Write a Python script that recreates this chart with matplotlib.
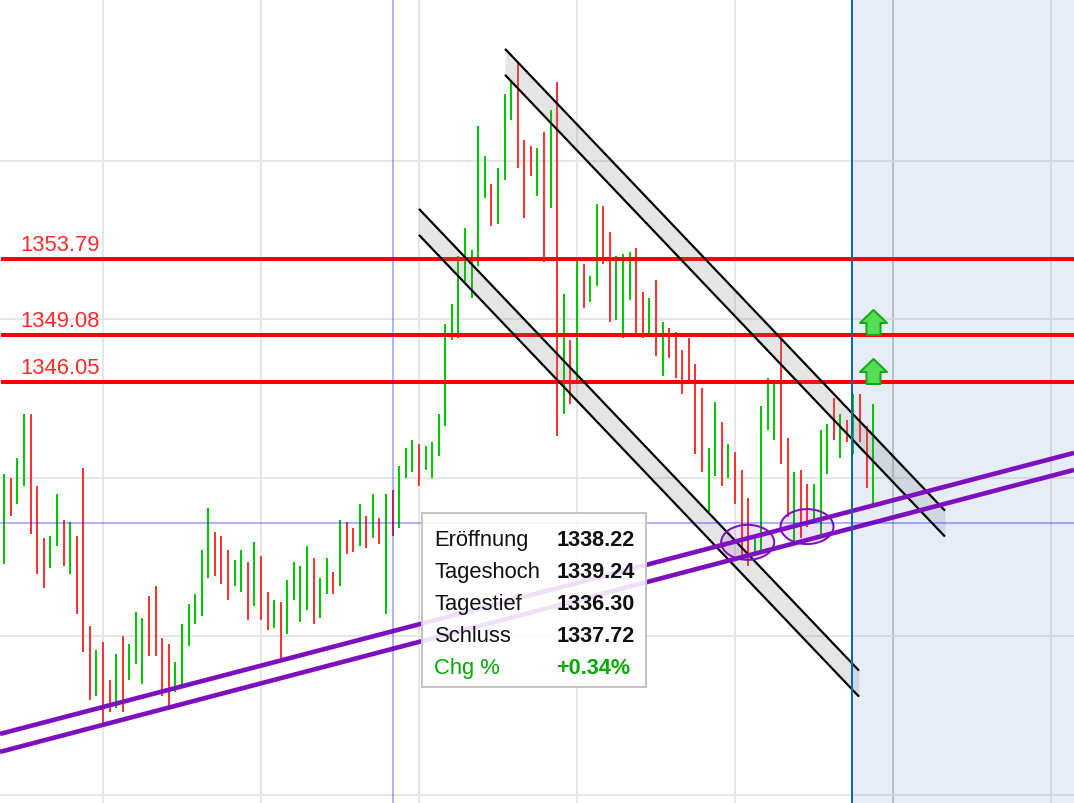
import matplotlib
matplotlib.use("Agg")
import matplotlib.pyplot as plt
from matplotlib.patches import Ellipse, Rectangle
from matplotlib.path import Path

plt.rcParams['font.family'] = ['Liberation Sans', 'DejaVu Sans']

W, H = 1074, 804

# ---------- data ----------
highs = [1340.24,1339.98,1341.24,1344.02,1344.02,1339.48,1336.21,1336.33,1338.98,1337.34,
         1337.21,1336.33,1340.61,1330.66,1329.15,1329.65,1327.26,1328.90,1330.03,1329.53,
         1331.54,1331.17,1332.55,1333.18,1329.91,1329.53,1328.39,1330.79,1332.05,1332.68,
         1335.45,1338.09,1336.58,1336.33,1335.45,1334.82,1335.45,1334.69,1335.95,1335.07,
         1332.80,1332.30,1332.17,1333.56,1334.69,1334.44,1335.70,1334.95,1333.69,1334.95,
         1334.06,1337.34,1337.21,1336.84,1338.35,1337.59,1338.98,1337.46,1338.98,1339.24,
         1340.74,1341.87,1342.38,1342.13,1342.00,1342.25,1344.02,1349.69,1350.94,1353.97,
         1355.73,1354.35,1362.16,1360.27,1358.50,1359.51,1364.17,1364.93,1366.19,1361.28,
         1360.90,1360.77,1361.78,1363.16,1364.93,1351.57,1348.68,1353.72,1353.46,1352.71,
         1357.24,1357.12,1355.48,1353.97,1354.09,1354.22,1354.47,1351.70,1351.32,1352.46,
         1349.81,1349.43,1349.18,1348.05,1348.80,1347.17,1345.65,1341.87,1344.77,1343.51,
         1342.13,1341.62,1340.49,1338.72,1336.14,1344.52,1346.28,1346.16,1348.80,1342.50,
         1340.36,1340.49,1339.61,1339.61,1343.01,1343.39,1345.02,1344.02,1343.64,1345.28,
         1345.28,1343.26,1344.65]
lows = [1334.57,1337.59,1338.35,1339.48,1336.46,1333.94,1333.06,1334.32,1335.70,1334.44,
        1333.94,1331.42,1329.02,1326.00,1326.25,1324.49,1325.24,1325.50,1325.24,1327.26,
        1328.27,1327.01,1328.77,1328.77,1326.25,1325.62,1326.50,1326.88,1329.40,1330.79,
        1331.29,1333.69,1333.81,1333.31,1332.30,1333.18,1332.80,1331.04,1331.92,1331.04,
        1330.41,1330.54,1328.52,1330.16,1332.30,1330.91,1331.67,1330.79,1331.17,1332.68,
        1332.68,1333.18,1335.20,1335.32,1335.70,1335.58,1336.21,1335.83,1331.42,1336.30,
        1336.84,1339.98,1340.36,1339.48,1340.49,1339.98,1341.37,1343.26,1348.68,1348.80,
        1352.27,1351.32,1353.34,1357.62,1355.86,1355.98,1358.76,1362.54,1359.51,1356.36,
        1359.01,1357.75,1353.59,1356.99,1342.63,1344.02,1344.65,1345.91,1350.69,1351.07,
        1352.08,1353.46,1349.81,1349.94,1348.80,1351.20,1349.06,1348.80,1349.06,1347.67,
        1346.41,1347.54,1346.28,1345.28,1346.03,1341.50,1340.36,1337.84,1340.11,1339.48,
        1339.98,1338.35,1335.07,1334.44,1335.26,1335.45,1343.01,1342.38,1340.87,1337.53,
        1336.02,1336.21,1336.90,1337.34,1336.46,1340.24,1342.38,1341.24,1342.25,1341.50,
        1342.25,1339.35,1338.35]
red_bars = [1,4,5,6,9,11,12,13,15,16,18,22,23,24,25,32,33,34,37,39,40,42,47,50,52,53,55,57,59,
            63,74,78,79,80,82,84,86,88,91,92,96,97,99,101,102,103,104,105,106,109,111,112,113,
            118,119,121,122,126,128,130,131]
bar_index = list(range(len(highs)))

level_labels = ["1353.79", "1349.08", "1346.05"]
level_prices = [1353.79, 1348.99, 1346.03]

channel_left_x = [63.0, 129.84]
channel_left_upper = [1356.93, 1327.85]
channel_left_lower = [1355.29, 1326.21]
channel_right_x = [76.07, 142.9]
channel_right_upper = [1367.01, 1337.92]
channel_right_lower = [1365.37, 1336.29]

trend_x = [-0.646, 162.5]
trend_upper = [1323.86, 1341.56]
trend_lower = [1322.73, 1340.49]

ellipse_x = [112.93, 121.94]
ellipse_p = [1335.93, 1336.92]

arrow_x = [132, 132]
arrow_p = [1349.78, 1346.72]

tooltip_labels = ["Eröffnung", "Tageshoch", "Tagestief", "Schluss", "Chg %"]
tooltip_values = ["1338.22", "1339.24", "1336.30", "1337.72", "+0.34%"]

grid_x = [15, 39, 63, 87, 111, 135, 159]
grid_y = [1320, 1330, 1340, 1350, 1359.95]
cross_x, cross_y = 59, 1337.15
now_x = 128.78

# ---------- figure ----------
px = 0.72  # points per pixel at dpi 100
xlim = (-0.646, 162.5)
fig = plt.figure(figsize=(W / 100, H / 100), dpi=100)
ax = fig.add_axes([0, 0, 1, 1])
ax.set_xlim(*xlim)
ax.set_ylim(1319.51, 1370.15)
for s in ax.spines.values():
    s.set_visible(False)
ax.set_xticks(grid_x)
ax.set_yticks(grid_y)
ax.tick_params(length=0, labelbottom=False, labelleft=False)
ax.grid(True, color="#e6e6e6", lw=2 * px, zorder=1)
ax.set_axisbelow(True)
ax.get_xgridlines()[5].set_color("#c8c8c8")

# future shading
ax.axvspan(now_x, xlim[1], facecolor=(108/255, 149/255, 202/255), alpha=0.17, lw=0, zorder=2)

# bars: exactly two pixels wide
bar_width = 2 * (xlim[1] - xlim[0]) / W
colors = ["#ff3333" if i in red_bars else "#00c800" for i in bar_index]
heights = [h - l for h, l in zip(highs, lows)]
ax.bar(bar_index, heights, bottom=lows, width=bar_width, color=colors, lw=0, zorder=3)

# levels
for lab, lev in zip(level_labels, level_prices):
    ax.plot([-0.5, xlim[1]], [lev, lev], color="#ff0000", lw=4 * px, zorder=3.5, solid_capstyle="butt")
    ax.annotate(lab, xy=(20 / W, lev), xycoords=("axes fraction", "data"),
                xytext=(0, 9 * px), textcoords="offset points", va="baseline", ha="left",
                color="#ff2a2a", fontsize=15.8, zorder=3.6)

# channels
for xs, up, lo in [(channel_left_x, channel_left_upper, channel_left_lower),
                   (channel_right_x, channel_right_upper, channel_right_lower)]:
    ax.fill_between(xs, lo, up, color="#808080", alpha=0.2, lw=0, zorder=4)
    ax.plot(xs, up, color="black", lw=2.2 * px, zorder=4.2, solid_capstyle="butt")
    ax.plot(xs, lo, color="black", lw=2.2 * px, zorder=4.2, solid_capstyle="butt")

# trend lines
ax.plot(trend_x, trend_upper, color="#7d0fc0", lw=4.6 * px, zorder=5, solid_capstyle="butt")
ax.plot(trend_x, trend_lower, color="#7d0fc0", lw=4.6 * px, zorder=5, solid_capstyle="butt")

# ellipses
for ex, ep in zip(ellipse_x, ellipse_p):
    ax.add_patch(Ellipse((ex, ep), 53 / 6.583, 35 / 15.875, facecolor=(0.5, 0.1, 0.75, 0.12),
                         edgecolor="#7d0fc0", lw=2.0 * px, zorder=5.5))

# crosshair
ax.axvline(cross_x, color=(0, 0, 1, 0.3), lw=2 * px, zorder=6)
ax.axhline(cross_y, color=(0, 0, 1, 0.3), lw=2 * px, zorder=6)
ax.axvline(now_x, color="#0b69a3", lw=2 * px, zorder=6)

# up arrows
arrow_path = Path([(0, 12.5), (13.5, -0.5), (7, -0.5), (7, -12.5), (-7, -12.5), (-7, -0.5),
                   (-13.5, -0.5), (0, 12.5)], closed=True)
ax.plot(arrow_x, arrow_p, ls="none", marker=arrow_path, markersize=27 * px,
        markerfacecolor="#55dd55", markeredgecolor="#11aa11", markeredgewidth=2 * px, zorder=6.5)

# tooltip
def fx(x):
    return x / W
def fy(y):
    return 1 - y / H

ax.add_patch(Rectangle((fx(422), fy(688)), 224 / W, 174 / H, transform=ax.transAxes,
                       facecolor=(1, 1, 1, 0.88), edgecolor="#c4c4c4", lw=2 * px, zorder=7))
baselines = [546, 578, 610, 642, 674]
for lab, val, yb in zip(tooltip_labels, tooltip_values, baselines):
    c = "#00aa00" if lab.startswith("Chg") else "#111111"
    ax.text(fx(434.5), fy(yb), lab, transform=ax.transAxes, va="baseline", ha="left",
            fontsize=15.8, color=c, zorder=8)
    ax.text(fx(556.5), fy(yb), val, transform=ax.transAxes, va="baseline", ha="left",
            fontsize=15.6, color=c, fontweight="bold", zorder=8)

fig.savefig("out.png", dpi=100)
